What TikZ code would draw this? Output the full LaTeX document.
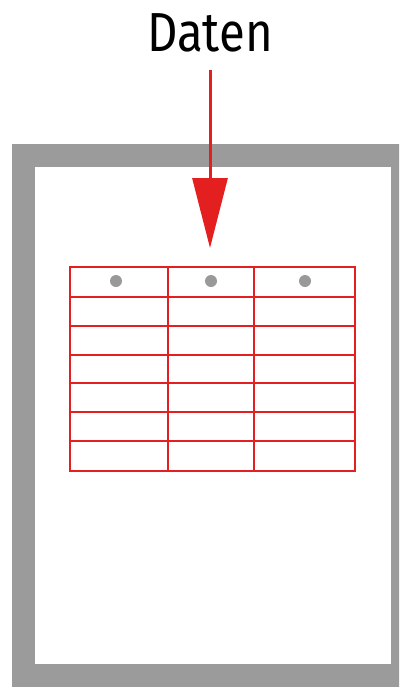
\documentclass[tikz,border=0pt]{standalone}
\usepackage{fontspec}
\setmainfont{Fira Sans}
\usetikzlibrary{arrows.meta, positioning}
\definecolor{datred}{HTML}{E3201F}
\definecolor{framegray}{HTML}{9B9B9B}
\definecolor{dotgray}{HTML}{999999}

\begin{document}
\begin{tikzpicture}[x=1pt, y=-1pt,
    frame/.style={draw=framegray, line width=23pt},
    grid/.style={draw=datred, line width=2pt},
    flow/.style={-{Triangle[length=70pt, width=35pt]}, datred, line width=3pt},
]
    \clip (0,0) rectangle (399,688);

    \draw[frame] (23.5,155.5) rectangle (402.5,675.5);

    \node[font=\fontsize{55}{60}\selectfont, xscale=0.86] (daten) at (210,33) {Daten};
    \coordinate (tip) at (210,248);
    \draw[flow] ([yshift=-14pt]daten.south) -- (tip);

    % table
    \foreach \y in {267,297,326,355,383,412,441,471}
        \draw[grid] (70,\y) -- (355,\y);
    \foreach \x in {70,168,254,355}
        \draw[grid] (\x,267) -- (\x,471);
    \draw[grid] (70,267) rectangle (355,471);
    \foreach \x in {116,211,305}
        \fill[dotgray] (\x,281) circle (6pt);
\end{tikzpicture}
\end{document}
